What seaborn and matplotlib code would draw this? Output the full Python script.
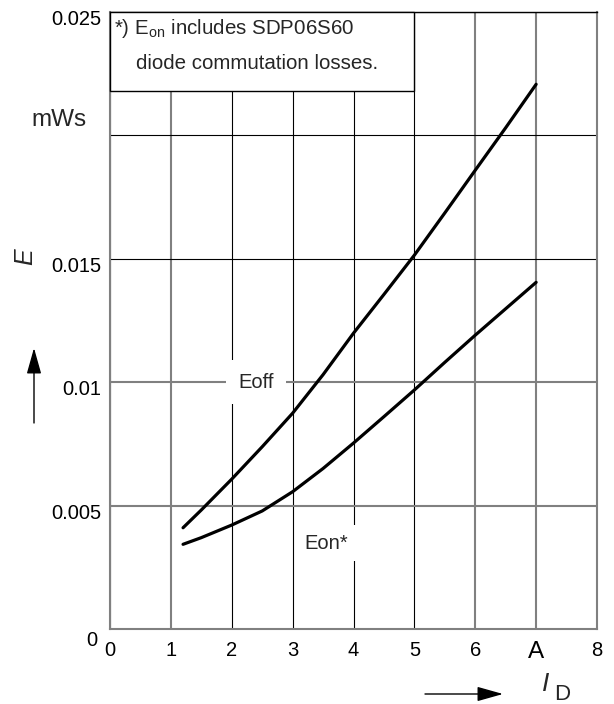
import matplotlib
matplotlib.use("Agg")
import matplotlib.pyplot as plt
import matplotlib.transforms as mtransforms
from matplotlib.patches import Rectangle
import seaborn as sns

# Data (E vs I_D)
current = [1.2, 1.5, 2.0, 2.5, 3.0, 3.5, 4.0, 4.5, 5.0, 5.5, 6.0, 6.5, 7.0]
e_off = [0.00410, 0.00482, 0.00607, 0.00738, 0.00874, 0.01030, 0.01198, 0.01355,
         0.01514, 0.01685, 0.01858, 0.02030, 0.02206]
e_on = [0.00343, 0.00370, 0.00421, 0.00478, 0.00556, 0.00650, 0.00753, 0.00860,
        0.00968, 0.01080, 0.01190, 0.01297, 0.01404]

x_ticks = [0, 1, 2, 3, 4, 5, 6, 7, 8]
x_labels = ['0', '1', '2', '3', '4', '5', '6', 'A', '8']
y_ticks = [0, 0.005, 0.01, 0.015, 0.02, 0.025]
y_labels = ['0', '0.005', '0.01', '0.015', '', '0.025']

sns.set_style('white')
plt.rcParams['font.family'] = ['Liberation Sans', 'DejaVu Sans']
plt.rcParams['mathtext.fontset'] = 'custom'
plt.rcParams['mathtext.rm'] = 'Liberation Sans'
plt.rcParams['mathtext.it'] = 'Liberation Sans:italic'

fig = plt.figure(figsize=(6.14, 7.04), dpi=100)
ax = fig.add_axes([110 / 614, 1 - 629 / 704, 487 / 614, 617.3 / 704])

sns.lineplot(x=current, y=e_off, color='black', lw=2.3, ax=ax, zorder=2)
sns.lineplot(x=current, y=e_on, color='black', lw=2.3, ax=ax, zorder=2)

ax.set_xlim(0, 8)
ax.set_ylim(0, 0.025)
ax.set_xticks(x_ticks)
ax.set_xticklabels(x_labels)
ax.set_yticks(y_ticks)
ax.set_yticklabels(y_labels)
ax.tick_params(length=0, labelsize=14.5, colors='black')
ax.tick_params(axis='y', pad=6)
ax.tick_params(axis='x', pad=9)
ax.set_xlabel('')
ax.set_ylabel('')

# grid: some lines gray & heavier, others thin black
ax.grid(True)
gray_x = {1, 6, 7}
for i, gl in enumerate(ax.get_xgridlines()):
    if x_ticks[i] in gray_x:
        gl.set_color('#808080'); gl.set_linewidth(1.5)
    else:
        gl.set_color('black'); gl.set_linewidth(0.8)
for i, gl in enumerate(ax.get_ygridlines()):
    if y_ticks[i] in (0.005, 0.01):
        gl.set_color('#808080'); gl.set_linewidth(1.5)
    else:
        gl.set_color('black'); gl.set_linewidth(0.8)

for side in ['left', 'bottom', 'right']:
    ax.spines[side].set_color('#808080')
    ax.spines[side].set_linewidth(1.5)
ax.spines['top'].set_color('black')
ax.spines['top'].set_linewidth(1.0)

# shift y tick labels slightly down like the original
off = mtransforms.ScaledTranslation(0, -4 / 72, fig.dpi_scale_trans)
for lab in ax.get_yticklabels():
    lab.set_transform(lab.get_transform() + off)
ax.get_yticklabels()[0].set_transform(
    ax.get_yticklabels()[0].get_transform() + mtransforms.ScaledTranslation(-3 / 72, -3 / 72, fig.dpi_scale_trans))
ax.get_xticklabels()[7].set_fontsize(17.5)

# unit label on the y axis
ax.text(-0.38, 0.0206, 'mWs', ha='right', va='center', fontsize=17.5)

# note box
ax.add_patch(Rectangle((0, 0.0218), 5, 0.0032, facecolor='white', edgecolor='black',
                       lw=1.0, zorder=3, clip_on=False))
ax.text(0.07, 0.02430, '*) E$_{\\mathregular{on}}$ includes SDP06S60', ha='left', va='center',
        fontsize=14.8, zorder=4)
ax.text(0.43, 0.0229, 'diode commutation losses.', ha='left', va='center',
        fontsize=14.8, zorder=4)

# curve labels
ax.text(2.40, 0.0100, 'Eoff', ha='center', va='center', fontsize=14.5,
        bbox=dict(facecolor='white', edgecolor='none', pad=9), zorder=4)
ax.text(3.55, 0.00348, 'Eon*', ha='center', va='center', fontsize=14.5,
        bbox=dict(facecolor='white', edgecolor='none', pad=6), zorder=4)

# axis names with arrows
fig.text(25 / 614, 1 - 257 / 704, 'E', rotation=90, style='italic', fontsize=18,
         ha='center', va='center')
arrow = dict(arrowstyle='-|>,head_length=1.6,head_width=0.45', mutation_scale=10,
             color='black', lw=1.0, shrinkA=0, shrinkB=0)
ax.annotate('', xy=(34 / 614, 1 - 348 / 704), xytext=(34 / 614, 1 - 423 / 704),
            xycoords='figure fraction', textcoords='figure fraction', arrowprops=arrow)
ax.annotate('', xy=(503 / 614, 1 - 694 / 704), xytext=(425 / 614, 1 - 694 / 704),
            xycoords='figure fraction', textcoords='figure fraction', arrowprops=arrow)
fig.text(546 / 614, 1 - 684 / 704, 'I', style='italic', fontsize=19, ha='center', va='center')
fig.text(562 / 614, 1 - 694 / 704, 'D', fontsize=16, ha='center', va='center')

fig.savefig('out.png', dpi=100)
